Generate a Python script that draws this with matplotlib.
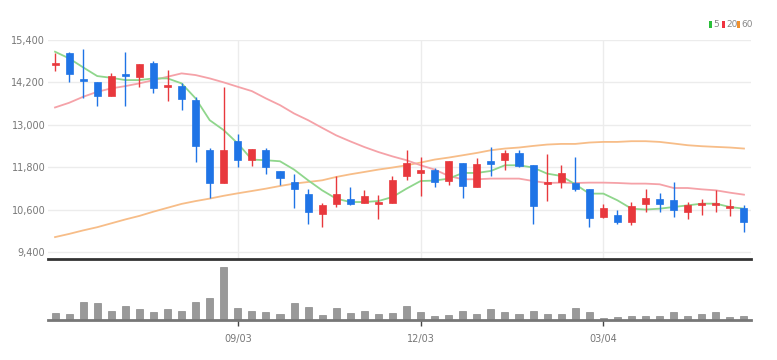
import matplotlib
matplotlib.use("Agg")
import matplotlib.pyplot as plt
from matplotlib.patches import Rectangle
import numpy as np

# ---- data (weekly candles) ----
opens  = [14680,15020,14290,14200,13810,14450,14360,14740,14080,14100,
          13700,12300,11340,12540,12000,12300,11680,11380,11050,10460,
          10750,10910,10780,10750,10780,11550,11640,11730,11400,11930,
          11240,11980,12000,12200,11850,11310,11380,11360,11170,10390,
          10450,10250,10750,10910,10860,10530,10720,10740,10630,10630]
highs  = [15040,15070,15140,14220,14470,15070,14720,14810,14550,14170,
          13790,12330,14080,12750,12310,12330,11690,11600,11170,10780,
          11550,11240,11140,11000,11550,12300,12090,11790,11980,11930,
          12060,12360,12280,12280,11870,12160,11850,12090,11170,10750,
          10580,10810,11170,11070,11380,10810,10910,11140,10910,10720]
lows   = [14530,14220,13760,13530,13810,13530,14060,13890,13670,13410,
          11950,10930,11340,11810,11830,11600,11290,10650,10180,10100,
          10670,10720,10780,10340,10780,11450,10980,11240,11290,10940,
          11240,11540,11730,11810,10200,10830,11210,11120,10100,10370,
          10180,10150,10530,10530,10390,10320,10450,10530,10410,9960]
closes = [14740,14450,14240,13820,14390,14390,14710,14030,14120,13720,
          12390,11340,12300,12000,12310,11810,11480,11190,10530,10740,
          11030,10770,10970,10810,11430,11930,11730,11380,11980,11270,
          11900,11900,12200,11830,10700,11380,11640,11170,10370,10630,
          10250,10690,10940,10770,10580,10720,10780,10780,10690,10250]
volumes = [22,18,53,51,28,43,32,24,33,26,53,65,160,37,27,23,18,51,38,16,
           36,22,28,17,22,42,23,12,16,27,18,32,23,18,28,18,18,37,23,7,
           8,11,13,13,23,13,17,23,8,13]
ma5  = [15068,14880,14625,14379,14330,14265,14265,14313,14313,14172,
        13746,13130,12847,12469,12015,11996,11967,11732,11428,11144,
        10909,10813,10813,10841,10955,11192,11408,11420,11476,11636,
        11636,11693,11854,11854,11789,11617,11551,11315,11051,11051,
        10861,10625,10600,10625,10672,10719,10767,10767,10672,10625]
ma20 = [13490,13622,13792,13933,14030,14095,14172,14265,14360,14455,
        14407,14313,14200,14075,13953,13746,13556,13320,13130,12912,
        12700,12530,12370,12228,12105,11996,11854,11732,11551,11457,
        11457,11476,11476,11476,11408,11352,11362,11352,11362,11362,
        11352,11334,11334,11315,11210,11210,11172,11144,11078,11021]
ma60 = [9820,9910,10010,10100,10210,10320,10420,10540,10650,10760,
        10840,10910,10990,11060,11125,11192,11267,11334,11380,11428,
        11523,11598,11664,11732,11789,11854,11930,12015,12072,12137,
        12203,12279,12327,12356,12401,12440,12458,12458,12497,12515,
        12515,12535,12535,12515,12469,12421,12393,12374,12356,12327]
ytick_vals = [9400, 10600, 11800, 13000, 14200, 15400]
xtick_pos = [13, 26, 39]
xtick_labels = ["09/03", "12/03", "03/04"]

UP = "#e8383d"
DOWN = "#1f74e6"
FONT = ["Liberation Sans Narrow", "DejaVu Sans"]

W, H = 777, 360
fig = plt.figure(figsize=(W/100, H/100), dpi=100)
fig.patch.set_facecolor("white")

L, R = 48, 751
ax = fig.add_axes([L/W, 1-259/H, (R-L)/W, (259-40)/H])
axv = fig.add_axes([L/W, 1-320/H, (R-L)/W, (320-262)/H], sharex=ax)

x = np.arange(len(opens))
bw = 0.5
for i in x:
    o, h, l, c = opens[i], highs[i], lows[i], closes[i]
    col = UP if c >= o else DOWN
    ax.vlines(i, l, h, color=col, lw=1.0, zorder=3)
    bottom = min(o, c)
    height = max(abs(c - o), 45)
    ax.add_patch(Rectangle((i - bw/2, bottom), bw, height, facecolor=col,
                           edgecolor=col, lw=0.5, zorder=4))

ax.plot(x, ma60, color="#f7bd88", lw=1.3, zorder=2)
ax.plot(x, ma20, color="#f5a2a8", lw=1.3, zorder=2)
ax.plot(x, ma5, color="#8fd68c", lw=1.3, zorder=2)

ax.set_xlim(-0.5, len(opens) - 0.5)
ax.set_ylim(9200, 15400)
ax.set_yticks(ytick_vals)
ax.set_yticklabels([f"{v:,}" for v in ytick_vals], family=FONT,
                   fontsize=7, color="#777777")
ax.tick_params(axis="y", length=0, pad=2)
ax.tick_params(axis="x", length=0, labelbottom=False)
ax.set_xticks(xtick_pos)
ax.grid(True, color="#ececec", lw=1.0)
ax.set_axisbelow(True)
for s in ["top", "right", "left"]:
    ax.spines[s].set_visible(False)
ax.spines["bottom"].set_color("#333333")
ax.spines["bottom"].set_linewidth(2.0)

axv.bar(x, volumes, width=bw, color="#999999", edgecolor="#888888", lw=0.5)
axv.set_ylim(0, 175)
axv.set_yticks([])
for s in ["top", "right", "left"]:
    axv.spines[s].set_visible(False)
axv.spines["bottom"].set_color("#777777")
axv.spines["bottom"].set_linewidth(2.0)
axv.set_xticks(xtick_pos)
axv.set_xticklabels(xtick_labels, family=FONT, fontsize=7, color="#777777")
axv.tick_params(axis="x", length=4, width=1, color="#444444", pad=6)

# legend
items = [("5", "#2bbf3a", 709), ("20", "#ef3340", 722), ("60", "#f0902c", 737)]
for lab, col, px in items:
    fig.add_artist(Rectangle((px/W, 1-28/H), 3/W, 7/H, transform=fig.transFigure,
                             facecolor=col, edgecolor="none"))
    fig.text((px+4)/W, 1-24.5/H, lab, family=FONT, fontsize=6.5,
             color="#888888", va="center", ha="left")

fig.savefig("out.png", dpi=100)
